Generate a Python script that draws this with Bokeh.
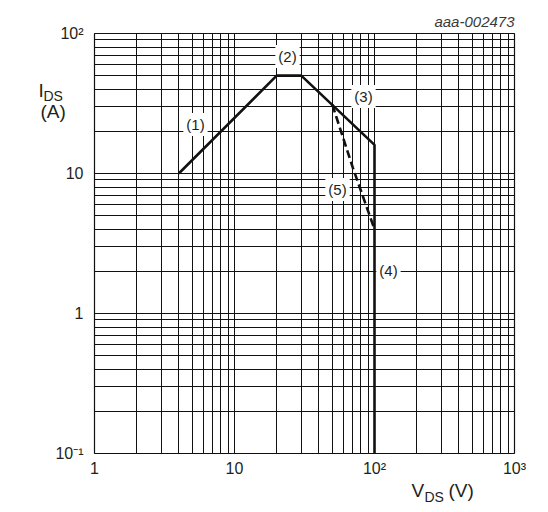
from bokeh.plotting import figure
from bokeh.models import Label, FixedTicker
from bokeh.embed import file_html
from bokeh.resources import INLINE

# ---- data ----
soa_vds = [4, 20, 30, 100, 100]
soa_ids = [10, 50, 50, 16, 0.1]
dc_vds = [50, 70, 100]
dc_ids = [31, 11, 4]

x_ticks = [1, 10, 100, 1000]
x_tick_labels = ["1", "10", "10²", "10³"]
y_ticks = [0.1, 1, 10, 100]
y_tick_labels = ["10⁻¹", "1", "10", "10²"]
curve_labels = ["(1)", "(2)", "(3)", "(4)", "(5)"]

FONT = "Liberation Sans"
TXT = "#231f20"

# frame geometry (pixels)
FL, FT, FS = 94, 33, 420
DEC = FS / 3.0


def px(xp, yp):
    """pixel position -> data coords"""
    return 10 ** ((xp - FL) / DEC), 10 ** (2 - (yp - FT) / DEC)


p = figure(x_axis_type="log", y_axis_type="log",
           x_range=(1, 1000), y_range=(0.1, 100),
           frame_width=FS, frame_height=FS,
           min_border_left=FL, min_border_top=FT,
           min_border_right=26, min_border_bottom=57,
           output_backend="svg", toolbar_location=None)

minor_x = [d * k for d in x_ticks[:-1] for k in range(2, 10)]
minor_y = [d * k for d in y_ticks[:-1] for k in range(2, 10)]
p.xaxis.ticker = FixedTicker(ticks=x_ticks, minor_ticks=minor_x)
p.yaxis.ticker = FixedTicker(ticks=y_ticks, minor_ticks=minor_y)
p.xaxis.major_label_overrides = dict(zip(x_ticks, x_tick_labels))
p.yaxis.major_label_overrides = dict(zip(y_ticks, y_tick_labels))

for ax in (p.xaxis, p.yaxis):
    ax.major_tick_line_color = None
    ax.minor_tick_line_color = None
    ax.major_tick_out = 0
    ax.minor_tick_out = 0
    ax.major_tick_in = 0
    ax.minor_tick_in = 0
    ax.axis_line_color = None
    ax.major_label_text_font = FONT
    ax.major_label_text_font_size = "16px"
    ax.major_label_text_color = TXT
p.xaxis.major_label_standoff = 6
p.yaxis.major_label_standoff = 11

for g in (p.xgrid, p.ygrid):
    g.grid_line_color = "#111111"
    g.grid_line_width = 1
    g.grid_line_alpha = 1
    g.minor_grid_line_color = "#111111"
    g.minor_grid_line_width = 1

p.outline_line_color = "#111111"
p.outline_line_width = 1.2
p.background_fill_color = "white"
p.border_fill_color = "white"

p.line(soa_vds, soa_ids, line_color="#111111", line_width=2.6)
p.line(dc_vds, dc_ids, line_color="#111111", line_width=2.6, line_dash="8 4")

# curve labels
label_px = [(195, 124), (287, 56), (363, 96), (388, 270), (337, 189)]
for t, (xp, yp) in zip(curve_labels, label_px):
    x, y = px(xp, yp)
    p.add_layout(Label(x=x, y=y, text=t, text_align="center", text_baseline="middle",
                       text_font=FONT, text_font_size="15px", text_color=TXT,
                       background_fill_color="white", padding=3))


# texts outside the frame: placed in side panels so they are not clipped
def add_text(xp, yp, t, size, place, align="left", style="normal", color=TXT):
    x, y = px(xp, yp)
    p.add_layout(Label(x=x, y=y, text=t, text_align=align, text_baseline="middle",
                       text_font=FONT, text_font_size=size, text_color=color,
                       text_font_style=style), place)


add_text(38, 90, "I", "19px", "left")
add_text(43, 95, "DS", "14px", "left")
add_text(40, 111, "(A)", "19px", "left")

add_text(411, 490, "V\u2002\u2002\u00a0(V)", "19px", "below")
add_text(424, 496, "DS", "14px", "right")

add_text(514, 21, "aaa-002473", "15px", "above", align="right", style="italic", color="#3a3a3a")

open("out.html", "w").write(file_html(p, INLINE))
